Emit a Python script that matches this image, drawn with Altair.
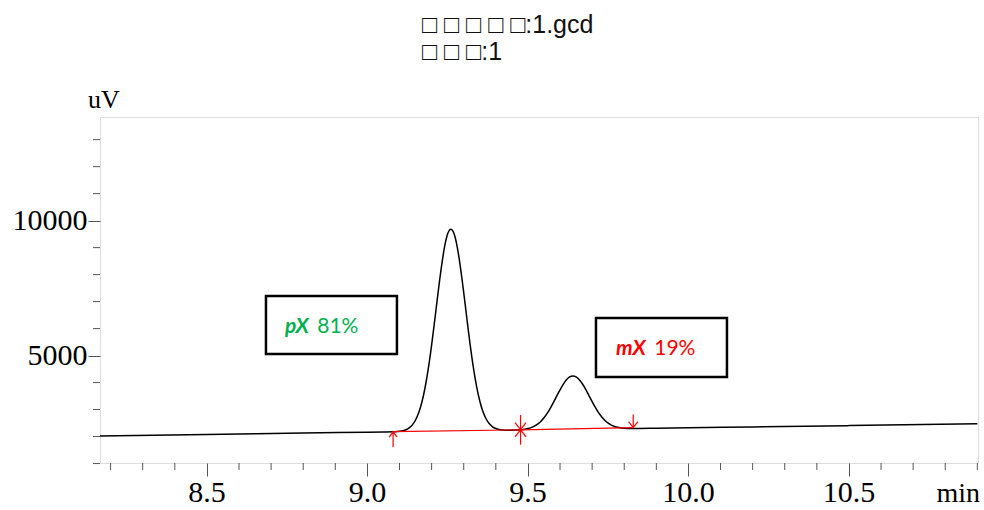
import altair as alt
import pandas as pd

# ---------------- data ----------------
TITLE_LINES = ["□ □ □ □ □:1.gcd", "□ □ □:1"]

TIME = [8.167, 8.5, 8.8, 9.0, 9.05, 9.08,
        9.10, 9.11, 9.12, 9.13, 9.14, 9.15, 9.16, 9.17, 9.18, 9.19,
        9.20, 9.21, 9.22, 9.23, 9.24, 9.25, 9.26, 9.27, 9.28, 9.29,
        9.30, 9.31, 9.32, 9.33, 9.34, 9.35, 9.36, 9.37, 9.38, 9.39,
        9.40, 9.41, 9.42, 9.44, 9.46, 9.48,
        9.49, 9.50, 9.51, 9.52, 9.53, 9.54, 9.55, 9.56, 9.57, 9.58,
        9.59, 9.60, 9.61, 9.62, 9.63, 9.64, 9.65, 9.66, 9.67, 9.68,
        9.69, 9.70, 9.71, 9.72, 9.73, 9.74, 9.75, 9.76, 9.77, 9.78,
        9.79, 9.80, 9.82, 9.84, 9.9, 10.0, 10.2, 10.5, 10.9]
SIGNAL = [2025, 2079, 2128, 2161, 2169, 2178,
          2195, 2216, 2253, 2320, 2433, 2614, 2890, 3288, 3836, 4541,
          5387, 6339, 7321, 8242, 9007, 9510, 9683, 9513, 9013, 8252,
          7334, 6355, 5407, 4564, 3862, 3318, 2922, 2650, 2472, 2362,
          2299, 2265, 2247, 2238, 2241, 2256,
          2272, 2295, 2331, 2384, 2458, 2561, 2694, 2858, 3054, 3273,
          3504, 3732, 3936, 4101, 4208, 4245, 4211, 4107, 3946, 3745,
          3520, 3293, 3077, 2884, 2723, 2594, 2494, 2423, 2373, 2341,
          2321, 2308, 2300, 2299, 2308, 2323, 2356, 2405, 2470]

BASE_T = [9.080, 9.477, 9.828]
BASE_V = [2185, 2248, 2333]
BASE_KIND = ["start", "split", "end"]

X_MAJOR = [8.5, 9.0, 9.5, 10.0, 10.5]
X_LABELS = ["8.5", "9.0", "9.5", "10.0", "10.5"]
X_MINOR = [8.2, 8.3, 8.4, 8.6, 8.7, 8.8, 8.9, 9.1, 9.2, 9.3, 9.4,
           9.6, 9.7, 9.8, 9.9, 10.1, 10.2, 10.3, 10.4, 10.6, 10.7, 10.8, 10.9]
Y_MAJOR = [5000, 10000]
Y_MINOR = [1000, 2000, 3000, 4000, 6000, 7000, 8000, 9000, 11000, 12000, 13000]

BOX_X1 = [8.684, 9.712]
BOX_X2 = [9.092, 10.120]
BOX_Y1 = [5063, 4211]
BOX_Y2 = [7212, 6397]
NAMES = ["pX", "mX"]
NAME_T = [8.743, 9.774]
PERCENT = ["81%", "19%"]
PCT_T = [8.8436, 9.8935]
LABEL_V = [6063, 5248]
LABEL_COLORS = ["#00b050", "#ff0000"]

# ---------------- tables ----------------
trace = pd.DataFrame({"t": TIME, "v": SIGNAL})
base = pd.DataFrame({"t": BASE_T, "v": BASE_V, "kind": BASE_KIND})
xminor = pd.DataFrame({"t": X_MINOR})
xlab = pd.DataFrame({"t": X_MAJOR, "txt": X_LABELS})
yminor = pd.DataFrame({"v": Y_MINOR})
boxes = pd.DataFrame({"t": BOX_X1, "x2": BOX_X2, "v": BOX_Y1, "y2": BOX_Y2})
names = pd.DataFrame({"t": NAME_T, "v": LABEL_V, "txt": NAMES, "c": LABEL_COLORS})
pcts = pd.DataFrame({"t": PCT_T, "v": LABEL_V, "txt": PERCENT, "c": LABEL_COLORS})
one = pd.DataFrame({"k": [0]})

xs = alt.Scale(domain=[8.167, 10.902], nice=False, zero=False)
ys = alt.Scale(domain=[1020, 13840], nice=False, zero=False)

SERIF = "Liberation Serif"
AX = "#555555"

x_axis = alt.Axis(values=X_MAJOR, tickSize=13, tickColor=AX, tickWidth=1, labels=False,
                  domain=False, grid=False, title=None)
y_axis = alt.Axis(values=Y_MAJOR, format="d", tickSize=12, tickColor=AX, tickWidth=1,
                  labelFont=SERIF, labelFontSize=30, labelColor="#000000", labelPadding=1,
                  labelOverlap=False, labelFlush=False, labelBound=False,
                  domain=False, grid=False, title=None)

X = alt.X("t:Q", scale=xs, axis=x_axis)
Y = alt.Y("v:Q", scale=ys, axis=y_axis)

line = alt.Chart(trace).mark_line(color="#000000", strokeWidth=1.5, interpolate="monotone").encode(
    x=X, y=Y,
)

redline = alt.Chart(base).mark_line(color="#ff0000", strokeWidth=1.2).encode(x=X, y=Y)

UP_PATH = "M0,0 L0,2.8 M-0.7,1 L0,0 L0.7,1"
STAR_PATH = "M0,-2.7 L0,2.7 M-1,-1.3 L1,1.3 M-1,1.3 L1,-1.3"
DOWN_PATH = "M0,0 L0,-2.4 M-0.85,-1.1 L0,0 L0.85,-1.1"

markers = alt.Chart(base).mark_point(filled=False, color="#ff0000", strokeWidth=1.2,
                                     size=120, opacity=1).encode(
    x=X, y=Y,
    shape=alt.Shape("kind:N", scale=alt.Scale(domain=BASE_KIND,
                                              range=[UP_PATH, STAR_PATH, DOWN_PATH]),
                    legend=None),
)

xticks = alt.Chart(xminor).mark_rule(color=AX, strokeWidth=1).encode(
    x=X, y=alt.value(346), y2=alt.value(353),
)
xlabels = alt.Chart(xlab).mark_text(align="center", baseline="alphabetic", font=SERIF,
                                    fontSize=30, color="#000000").encode(
    x=X, y=alt.value(385), text="txt:N",
)
yticks = alt.Chart(yminor).mark_rule(color=AX, strokeWidth=1).encode(
    y=Y, x=alt.value(-7), x2=alt.value(0),
)

rects = alt.Chart(boxes).mark_rect(fill="#ffffff", stroke="#000000", strokeWidth=2.5).encode(
    x=X, x2="x2:Q", y=Y, y2="y2:Q",
)

name_text = alt.Chart(names).mark_text(align="left", baseline="middle", font="Lato",
                                       fontSize=21, fontStyle="italic", fontWeight="bold").encode(
    x=X, y=Y, text="txt:N", color=alt.Color("c:N", scale=None),
)
pct_text = alt.Chart(pcts).mark_text(align="left", baseline="middle", font="Lato",
                                     fontSize=21).encode(
    x=X, y=Y, text="txt:N", color=alt.Color("c:N", scale=None),
)

title = alt.Chart(one).mark_text(align="left", baseline="alphabetic", font="Liberation Sans",
                                 fontSize=25, lineHeight=27, color="#111111").encode(
    x=alt.value(322), y=alt.value(-84), text=alt.value(TITLE_LINES),
)
uv = alt.Chart(one).mark_text(align="left", baseline="alphabetic", font=SERIF,
                              fontSize=26, color="#000000").encode(
    x=alt.value(-12), y=alt.value(-9), text=alt.value("uV"),
)
mins = alt.Chart(one).mark_text(align="right", baseline="alphabetic", font=SERIF,
                                fontSize=28, color="#000000").encode(
    x=alt.value(880), y=alt.value(385), text=alt.value("min"),
)

chart = alt.layer(line, redline, markers, xticks, xlabels, yticks, rects, name_text, pct_text,
                  title, uv, mins).properties(
    width=878, height=346,
    padding={"left": 100, "top": 117, "right": 6, "bottom": 47},
    autosize="none",
).configure_view(stroke=AX, strokeWidth=1.5).configure(background="#ffffff")

chart.save("out.html", embed_options={"renderer": "svg", "actions": False})
